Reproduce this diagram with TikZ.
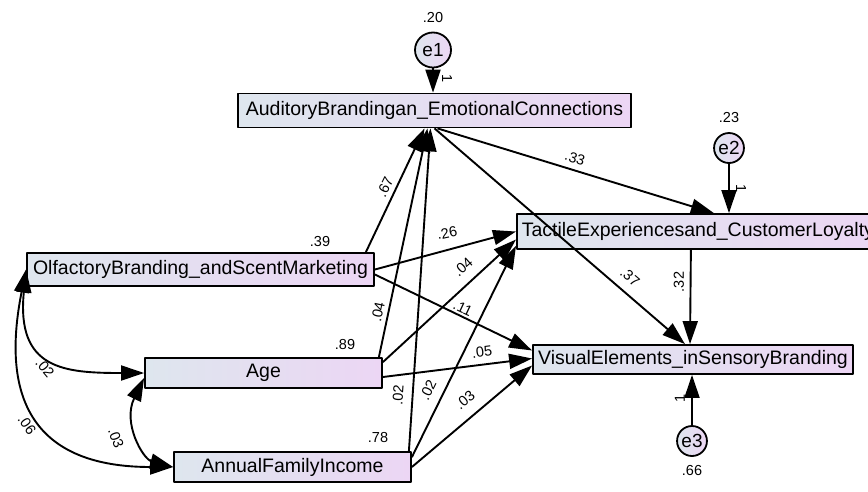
\documentclass[tikz,border=0pt]{standalone}
\usepackage{fontspec}
\setmainfont{Liberation Sans}
\usetikzlibrary{arrows.meta,shapes.geometric}
\definecolor{boxl}{RGB}{222,230,238}
\definecolor{boxr}{RGB}{236,214,244}
\begin{document}
\begin{tikzpicture}[x=1pt, y=-1pt, line join=round, >={Triangle[length=23pt,width=15pt]}]
	\tikzset{var/.style={draw, line width=1.8pt, left color=boxl, right color=boxr, inner sep=0pt, font=\fontsize{19.5}{22}\selectfont},
		err/.style={draw, ellipse, line width=1.8pt, left color=boxl, right color=boxr, inner sep=0pt, font=\fontsize{19}{22}\selectfont},
		coef/.style={inner sep=0pt, font=\fontsize{14.5}{16}\selectfont},
		reg/.style={->, line width=1.9pt},
		cov/.style={<->, line width=1.9pt}}
	\clip (0,0) rectangle (868,491);
	\node[var, minimum width=393pt, minimum height=34pt] (aud) at (434.5,110.5) {AuditoryBrandingan\_EmotionalConnections};
	\node[var, minimum width=347pt, minimum height=33pt] (olf) at (200.5,269.5) {OlfactoryBranding\_andScentMarketing};
	\node[var, minimum width=237pt, minimum height=30pt] (age) at (263.5,373) {Age};
	\node[var, minimum width=237pt, minimum height=30pt] (inc) at (292.5,467) {AnnualFamilyIncome};
	\node[var, anchor=west, minimum width=362pt, minimum height=35pt] (tac) at (516,231.5) {TactileExperiencesand\_CustomerLoyalty};
	\node[var, minimum width=320pt, minimum height=29pt] (vis) at (693,359.5) {VisualElements\_inSensoryBranding};
	\node[err, minimum width=36pt, minimum height=35pt] (e1) at (433,50) {e1};
	\node[err, minimum width=28pt, minimum height=30pt] (e2) at (729,148) {e2};
	\node[err, minimum width=28pt, minimum height=30pt] (e3) at (692,441) {e3};
	
	\node[coef] (v20) at (433,18) {.20};
	\node[coef] (v23) at (729,118) {.23};
	\node[coef] (v66) at (692,470) {.66};
	\node[coef] (v39) at (320,242) {.39};
	\node[coef] (v89) at (345,345) {.89};
	\node[coef] (v78) at (378,438) {.78};
	
	\draw[reg] (e1.south) -- (e1.south |- aud.north);
	\draw[reg] (e2.south) -- (e2.south |- tac.north);
	\draw[reg] (e3.north) -- (e3.north |- vis.south);
	\node[coef, rotate=-90] (w1) at (447,79) {1};
	\node[coef, rotate=-90] (w2) at (741,189) {1};
	\node[coef, rotate=90] (w3) at (680,398) {1};
	
	\draw[reg] ([xshift=-9pt]olf.north east) -- ([xshift=-10pt]aud.south);
	\draw[reg] ([xshift=-4pt]age.north east) -- ([xshift=-7pt]aud.south);
	\draw[reg] ([xshift=-3pt]inc.north east) -- ([xshift=-4pt]aud.south);
	\draw[reg] ([xshift=3pt]aud.south) -- ([xshift=16pt]tac.north);
	\draw[reg] (aud.south) -- ([xshift=-8pt]vis.north);
	\draw[reg] (olf.east) -- (tac.west);
	\draw[reg] ([yshift=-5pt]age.north east) -- ([yshift=-8pt]tac.west);
	\draw[reg] ([yshift=-6pt]inc.north east) -- ([yshift=4pt]tac.south west);
	\draw[reg] ([yshift=-5pt]olf.east) -- ([yshift=9pt]vis.west);
	\draw[reg] ([yshift=-4pt]age.east) -- ([yshift=1pt]vis.west);
	\draw[reg] (inc.east) -- ([yshift=-6pt]vis.west);
	\draw[reg] ([xshift=-7pt]tac.south) -- ([xshift=-3pt]vis.north);
	
	\draw[cov] (olf.west) .. controls +(-10,100) and +(-80,0) .. (age.west);
	\draw[cov] (olf.west) .. controls +(-30,150) and +(-120,0) .. (inc.west);
	\draw[cov] ([yshift=-5pt]age.west) .. controls +(-22,45) and +(-30,-8) .. (inc.west);
	
	\node[coef, rotate=64] (c67) at (385,187) {.67};
	\node[coef, rotate=78] (c04a) at (378,312) {.04};
	\node[coef, rotate=86] (c02a) at (398,395) {.02};
	\node[coef, rotate=-17] (c33) at (575,158) {.33};
	\node[coef, rotate=-40] (c37) at (630,277) {.37};
	\node[coef, rotate=12] (c26) at (447,233) {.26};
	\node[coef, rotate=42] (c04b) at (463,267) {.04};
	\node[coef, rotate=64] (c02b) at (428,390) {.02};
	\node[coef, rotate=-25] (c11) at (463,308) {.11};
	\node[coef, rotate=7] (c05) at (482,352) {.05};
	\node[coef, rotate=40] (c03a) at (465,400) {.03};
	\node[coef, rotate=90] (c32) at (679,282) {.32};
	\node[coef, rotate=-50] (c02c) at (45,368) {.02};
	\node[coef, rotate=-55] (c06) at (27,425) {.06};
	\node[coef, rotate=-70] (c03b) at (116,438) {.03};
\end{tikzpicture}
\end{document}
